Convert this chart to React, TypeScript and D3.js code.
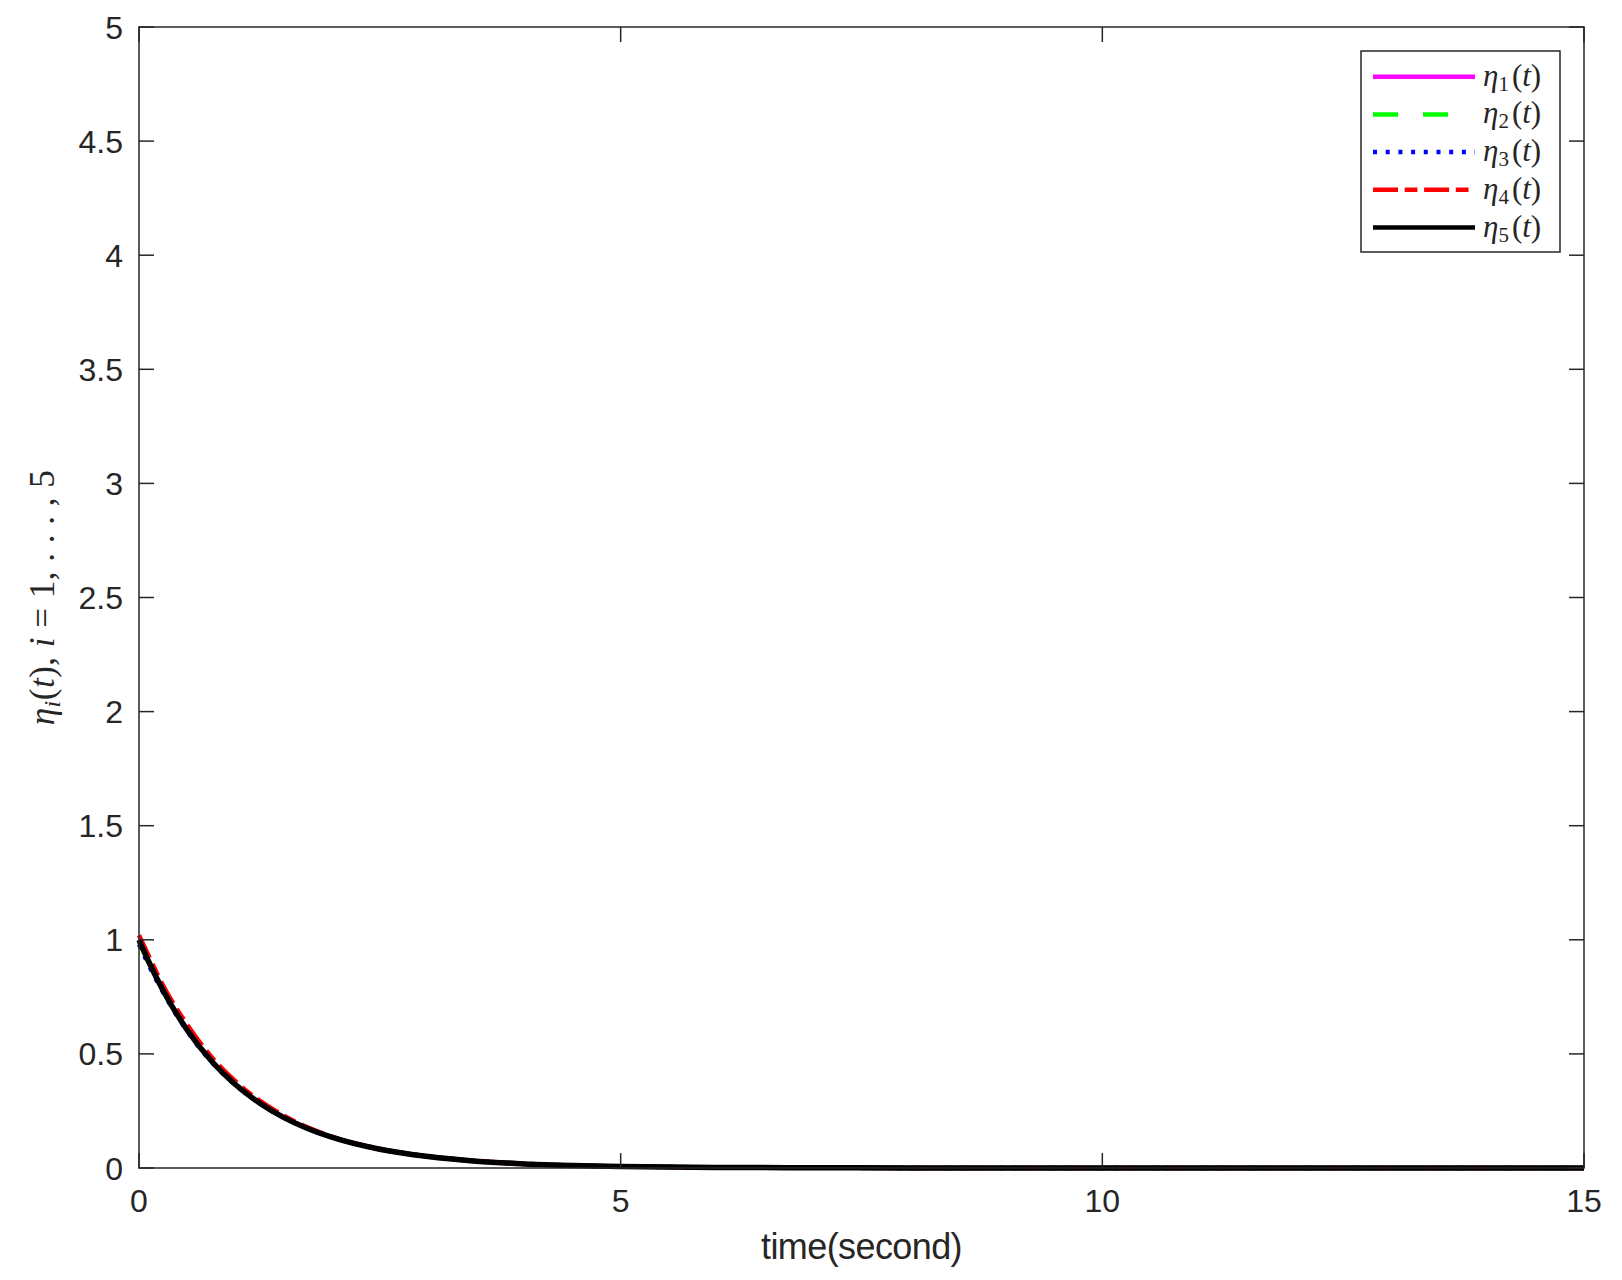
import * as d3 from 'd3';
import React from 'react';

// time samples (seconds) and the five trajectories
const timeSec = [0, 0.1, 0.25, 0.5, 0.75, 1, 1.25, 1.5, 1.75, 2, 2.5, 3, 3.5, 4, 4.5, 5, 6, 7, 8, 10, 12, 15];
const eta1 = [1.0, 0.905, 0.78, 0.606, 0.471, 0.367, 0.286, 0.223, 0.174, 0.135, 0.082, 0.05, 0.03, 0.018, 0.011, 0.007, 0.0025, 0.001, 0.0003, 0.00005, 0, 0];
const eta2 = [0.99, 0.9, 0.776, 0.604, 0.47, 0.366, 0.286, 0.223, 0.174, 0.136, 0.083, 0.05, 0.031, 0.019, 0.011, 0.007, 0.0025, 0.001, 0.0003, 0.00005, 0, 0];
const eta3 = [0.98, 0.89, 0.77, 0.6, 0.466, 0.364, 0.285, 0.222, 0.174, 0.136, 0.083, 0.051, 0.031, 0.019, 0.011, 0.007, 0.0025, 0.001, 0.0003, 0.00005, 0, 0];
const eta4 = [1.02, 0.93, 0.8, 0.628, 0.488, 0.38, 0.296, 0.23, 0.178, 0.138, 0.084, 0.051, 0.031, 0.019, 0.011, 0.007, 0.0025, 0.001, 0.0003, 0.00005, 0, 0];
const eta5 = [1.0, 0.905, 0.778, 0.605, 0.47, 0.366, 0.285, 0.222, 0.173, 0.135, 0.082, 0.05, 0.03, 0.018, 0.011, 0.007, 0.0025, 0.001, 0.0003, 0.00005, 0, 0];

const xTicks = [0, 5, 10, 15];
const yTicks = [0, 0.5, 1, 1.5, 2, 2.5, 3, 3.5, 4, 4.5, 5];

const series = [
  { sub: '1', values: eta1, color: '#ff00ff', dash: null, width: 4.5 },
  { sub: '2', values: eta2, color: '#00ff00', dash: '25,25', width: 4.5 },
  { sub: '3', values: eta3, color: '#0000ff', dash: '4,8.7', width: 4.5 },
  { sub: '4', values: eta4, color: '#ff0000', dash: '25,6.7,12.7,6.7', width: 4.5 },
  { sub: '5', values: eta5, color: '#000000', dash: null, width: 5.5 },
];

const W = 1622;
const H = 1280;
const left = 139;
const right = 1584;
const top = 27;
const bottom = 1168;
const axisColor = '#262626';
const tickFont = '"Liberation Sans", Arial, sans-serif';
const mathFont = '"Liberation Serif", "Times New Roman", serif';

const App = () => {
  const x = d3.scaleLinear().domain([0, 15]).range([left, right]);
  const y = d3.scaleLinear().domain([0, 5]).range([bottom, top]);

  const line = d3
    .line<number>()
    .x((d, i) => x(timeSec[i]))
    .y(d => y(d))
    .curve(d3.curveMonotoneX);

  const tickLen = 15;
  const legX = 1361;
  const legY = 51;
  const legW = 199;
  const legH = 201;
  const rowH = 37.7;

  return (
    <svg width={W} height={H} style={{ position: 'absolute', left: 0, top: 0, background: '#fff' }}>
      {/* curves */}
      {series.map(s => (
        <path
          key={s.sub}
          d={line(s.values) || ''}
          fill="none"
          stroke={s.color}
          strokeWidth={s.width}
          strokeDasharray={s.dash || undefined}
          strokeLinejoin="round"
        />
      ))}

      {/* axes box */}
      <rect x={left} y={top} width={right - left} height={bottom - top} fill="none" stroke={axisColor} strokeWidth={1.5} />
      {xTicks.map(t => (
        <g key={'x' + t}>
          <line x1={x(t)} x2={x(t)} y1={bottom} y2={bottom - tickLen} stroke={axisColor} strokeWidth={1.5} />
          <line x1={x(t)} x2={x(t)} y1={top} y2={top + tickLen} stroke={axisColor} strokeWidth={1.5} />
          <text x={x(t)} y={1212} textAnchor="middle" fontFamily={tickFont} fontSize={32} fill={axisColor}>
            {t}
          </text>
        </g>
      ))}
      {yTicks.map(t => (
        <g key={'y' + t}>
          <line x1={left} x2={left + tickLen} y1={y(t)} y2={y(t)} stroke={axisColor} strokeWidth={1.5} />
          <line x1={right} x2={right - tickLen} y1={y(t)} y2={y(t)} stroke={axisColor} strokeWidth={1.5} />
          <text x={123} y={y(t)} dy="0.36em" textAnchor="end" fontFamily={tickFont} fontSize={32} fill={axisColor}>
            {t}
          </text>
        </g>
      ))}

      {/* axis labels */}
      <text x={(left + right) / 2} y={1259} textAnchor="middle" fontFamily={tickFont} fontSize={36} letterSpacing={-0.6} fill={axisColor}>
        time(second)
      </text>
      <text
        transform={`translate(54,${(top + bottom) / 2}) rotate(-90)`}
        textAnchor="middle"
        fontFamily={mathFont}
        fontSize={35}
        letterSpacing={0.5}
        fill={axisColor}
      >
        <tspan fontStyle="italic">η</tspan>
        <tspan fontStyle="italic" fontSize={24} dy={6}>i</tspan>
        <tspan dy={-6}>(</tspan>
        <tspan fontStyle="italic">t</tspan>
        <tspan>), </tspan>
        <tspan fontStyle="italic">i</tspan>
        <tspan> = 1, . . . , 5</tspan>
      </text>

      {/* legend */}
      <rect x={legX} y={legY} width={legW} height={legH} fill="#fff" stroke={axisColor} strokeWidth={1.5} />
      {series.map((s, i) => {
        const ry = legY + 25.7 + i * rowH;
        return (
          <g key={'leg' + s.sub}>
            <line
              x1={1373}
              x2={s.dash === '25,25' ? 1450 : 1475}
              y1={ry}
              y2={ry}
              stroke={s.color}
              strokeWidth={4.5}
              strokeDasharray={s.dash || undefined}
            />
            <text x={1483} y={ry + 9} fontFamily={mathFont} fontSize={31} fill={axisColor}>
              <tspan fontStyle="italic">η</tspan>
              <tspan fontSize={21} dy={5}>{s.sub}</tspan>
              <tspan dy={-5} dx={3}>(</tspan>
              <tspan fontStyle="italic">t</tspan>
              <tspan>)</tspan>
            </text>
          </g>
        );
      })}
    </svg>
  );
};

export default App;
